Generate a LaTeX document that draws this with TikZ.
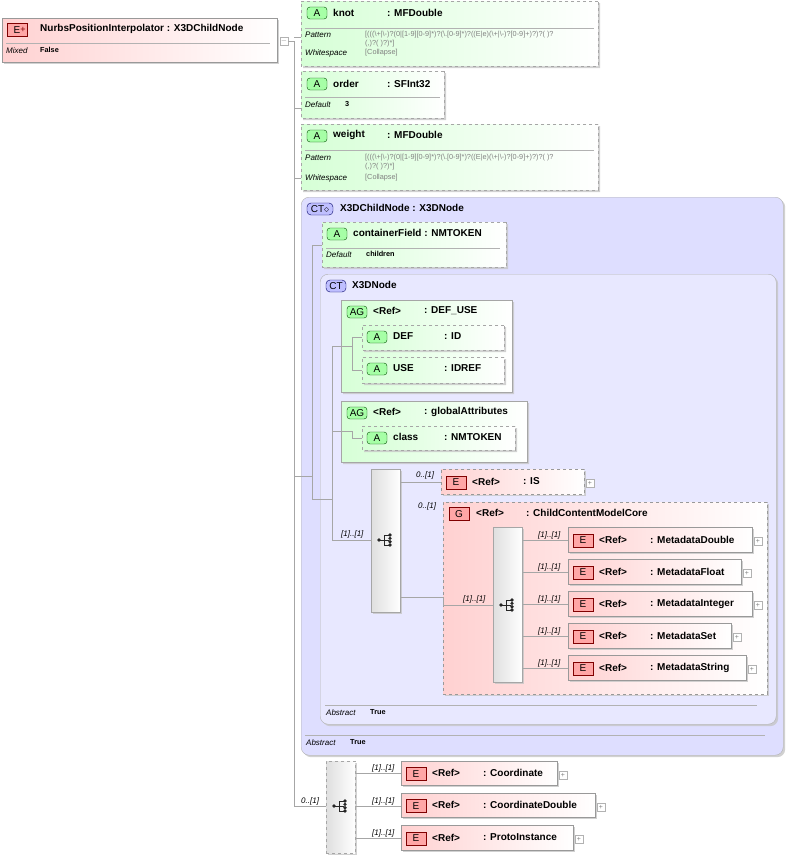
\documentclass[tikz,border=0pt]{standalone}
\usepackage{fontspec}
\setmainfont{Liberation Sans}
\usetikzlibrary{shadows,shapes.misc}
\begin{document}
\begin{tikzpicture}[x=1pt,y=-1pt,
 shad/.style={drop shadow={shadow xshift=2pt,shadow yshift=-2pt,fill=gray!45,opacity=.8}},
 ebox/.style={draw=gray!80,left color=red!18,right color=white,shad},
 edash/.style={ebox,dashed},
 abox/.style={draw=gray!70,dashed,chamfered rectangle,chamfered rectangle corners={north west,south west},chamfered rectangle xsep=6pt,chamfered rectangle ysep=6pt,left color=green!16,right color=white,shad,inner sep=0},
 agbox/.style={abox,solid},
 ctbox/.style={draw=gray!60,rounded corners=8pt,fill=blue!13,shad},
 ct2box/.style={draw=gray!60,rounded corners=8pt,fill=blue!9,shad},
 comp/.style={draw=gray!70,left color=gray!25,right color=white,shad},
 pl/.style={draw=gray!60,fill=white,minimum size=8pt,inner sep=0,font=\fontsize{7}{7}\selectfont,text=gray},
 ln/.style={draw=gray!70,line width=.6pt},
 lab/.style={anchor=west,inner sep=0,font=\fontsize{10}{11}\selectfont\bfseries},
 sm/.style={anchor=west,inner sep=0,font=\fontsize{7.3}{8}\selectfont},
 smb/.style={sm,font=\fontsize{7.3}{8}\selectfont\bfseries},
 smi/.style={anchor=west,inner sep=0,font=\fontsize{8}{9}\selectfont\itshape},
 card/.style={anchor=south west,inner sep=0,font=\fontsize{8}{9}\selectfont\itshape},
]
\newcommand\mkbox[6]{\pgfmathsetmacro\bw{#5-#3}\pgfmathsetmacro\bh{#6-#4}%
 \node[#1,minimum width=\bw pt,minimum height=\bh pt,anchor=north west,inner sep=0] (#2) at ({#3},{#4}) {};}
\newcommand\ebadge[3]{\node[draw=red!50!black,fill=red!35,minimum width=20pt,minimum height=13pt,inner sep=0,font=\fontsize{10}{10}\selectfont] (#1) at ({#2},{#3}) {E};}
\newcommand\abadge[4]{\node[draw=green!30!black,fill=green!35,rounded corners=3pt,minimum width=20pt,minimum height=12pt,inner sep=0,font=\fontsize{10}{10}\selectfont] (#1) at ({#2},{#3}) {#4};}
\newcommand\elem[7]{% name x1 y1 x2 y2 type style
 \mkbox{#7}{#1}{#2}{#3}{#4}{#5}
 \ebadge{#1b}{#2+15}{(#3+#5)/2+1}
 \node[lab] at ({#2+31},{(#3+#5)/2}) {<Ref>};
 \node[lab] at ({#2+82},{(#3+#5)/2}) {: #6};
 \node[pl] (#1p) at ({#4+6},{(#3+#5)/2+2}) {+};}
\newcommand\icon[2]{\fill[gray!30!black] (#1-7,#2) circle (1.8);
 \draw[gray!30!black,line width=.8pt] (#1-7,#2)--(#1-2,#2) (#1-2,#2-5)--(#1-2,#2+5) (#1-2,#2-5)--(#1+3,#2-5) (#1-2,#2+5)--(#1+3,#2+5) (#1-2,#2)--(#1+3,#2);
 \foreach \d in {-5,-1.7,1.7,5}{\fill[gray!30!black] (#1+4,#2+\d) circle (1.8);}}

% main element
\mkbox{ebox}{main}{2}{18}{277}{62}
\ebadge{mainb}{17}{30}
\node[font=\fontsize{9}{9}\selectfont,text=red!50!black] at (23,30) {+};
\node[lab] at (40,29) {NurbsPositionInterpolator : X3DChildNode};
\draw[gray!60] (6,43)--(270,43);
\node[smi] at (6,51) {Mixed};
\node[smb] at (40,50) {False};
\node[pl] (mainm) at (284,41) {$-$};
\coordinate (tr) at (294,41);
\draw[ln] (mainm.east)--(tr)--(294,806);

% knot
\mkbox{abox}{knot}{301}{1}{598}{66}
\abadge{knotb}{317}{13}{A}
\node[lab] at (333,13) {knot}; \node[lab] at (387,13) {: MFDouble};
\draw[gray!60] (305,28)--(594,28);
\node[smi] at (305,35) {Pattern};
\node[sm,text=gray] at (365,35) {[(((\textbackslash+|\textbackslash-)?(0|[1-9][0-9]*)?(\textbackslash.[0-9]*)?((E|e)(\textbackslash+|\textbackslash-)?[0-9]+)?)?( )?};
\node[sm,text=gray] at (365,44) {(,)?( )?)*]};
\node[smi] at (305,53) {Whitespace}; \node[sm,text=gray] at (365,53) {[Collapse]};
\draw[ln] (294,37)--(knot.west|-294,37);
% order
\mkbox{abox}{order}{301}{71}{444}{118}
\abadge{orderb}{317}{84}{A}
\node[lab] at (333,84) {order}; \node[lab] at (387,84) {: SFInt32};
\draw[gray!60] (305,97)--(440,97);
\node[smi] at (305,105) {Default}; \node[smb] at (345,104) {3};
\draw[ln] (294,108)--(order.west|-294,108);
% weight
\mkbox{abox}{weight}{301}{124}{598}{190}
\abadge{weightb}{317}{136}{A}
\node[lab] at (333,135) {weight}; \node[lab] at (387,135) {: MFDouble};
\draw[gray!60] (305,150)--(594,150);
\node[smi] at (305,158) {Pattern};
\node[sm,text=gray] at (365,158) {[(((\textbackslash+|\textbackslash-)?(0|[1-9][0-9]*)?(\textbackslash.[0-9]*)?((E|e)(\textbackslash+|\textbackslash-)?[0-9]+)?)?( )?};
\node[sm,text=gray] at (365,167) {(,)?( )?)*]};
\node[smi] at (305,178) {Whitespace}; \node[sm,text=gray] at (365,178) {[Collapse]};
\draw[ln] (294,178)--(weight.west|-294,178);

% X3DChildNode
\mkbox{ctbox}{ct1}{301}{197}{783}{755}
\node[draw=blue!40!black,fill=blue!25,rounded corners=4pt,minimum width=26pt,minimum height=12pt,inner sep=0,font=\fontsize{10}{10}\selectfont] (ct1b) at (320,209) {CT$\diamond$};
\node[lab] at (340,208) {X3DChildNode : X3DNode};
\draw[gray!60] (305,735)--(765,735);
\node[smi] at (306,743) {Abstract}; \node[smb] at (350,742) {True};
% containerField
\mkbox{abox}{cf}{322}{222}{506}{267}
\abadge{cfb}{337}{234}{A}
\node[lab] at (353,233) {containerField : NMTOKEN};
\draw[gray!60] (326,248)--(500,248);
\node[smi] at (326,255) {Default}; \node[smb] at (366,254) {children};
\draw[ln] (294,476)--(312,476) (312,245)--(312,499) (312,245)--(cf.west|-312,245);

% X3DNode
\mkbox{ct2box}{ct2}{320}{274}{776}{724}
\node[draw=blue!40!black,fill=blue!25,rounded corners=4pt,minimum width=20pt,minimum height=12pt,inner sep=0,font=\fontsize{10}{10}\selectfont] (ct2b) at (336,286) {CT};
\node[lab] at (352,285) {X3DNode};
\draw[gray!60] (325,705)--(757,705);
\node[smi] at (326,713) {Abstract}; \node[smb] at (370,712) {True};
\draw[ln] (312,499)--(332,499) (332,346)--(332,540);

% DEF_USE
\mkbox{agbox}{du}{341}{300}{512}{392}
\abadge{dub}{357}{312}{AG}
\node[lab] at (373,311) {<Ref>}; \node[lab] at (424,311) {: DEF\_USE};
\mkbox{abox}{def}{362}{325}{504}{350}
\abadge{defb}{377}{337}{A}
\node[lab] at (393,336) {DEF}; \node[lab] at (444,336) {: ID};
\mkbox{abox}{use}{362}{357}{504}{383}
\abadge{useb}{377}{369}{A}
\node[lab] at (393,368) {USE}; \node[lab] at (444,368) {: IDREF};
\draw[ln] (332,346)--(352,346) (352,337)--(352,370) (352,337)--(def.west|-352,337) (352,370)--(use.west|-352,370);
% globalAttributes
\mkbox{agbox}{ga}{341}{401}{527}{462}
\abadge{gab}{357}{413}{AG}
\node[lab] at (373,412) {<Ref>}; \node[lab] at (424,412) {: globalAttributes};
\mkbox{abox}{cls}{362}{426}{515}{450}
\abadge{clsb}{377}{438}{A}
\node[lab] at (393,437) {class}; \node[lab] at (444,437) {: NMTOKEN};
\draw[ln] (332,431)--(352,431) (352,431)--(352,438)--(cls.west|-352,438);

% sequence
\mkbox{comp}{seq}{371}{469}{400}{612}
\icon{386}{540}
\draw[ln] (332,540)--(seq.west|-332,540);
\node[card] at (341,538) {[1]..[1]};
% IS
\elem{is}{441}{469}{584}{494}{IS}{edash}
\draw[ln] (seq.east|-400,482)--(is.west|-400,482);
\node[card] at (416,479) {0..[1]};
% group
\mkbox{edash}{grp}{443}{502}{767}{694}
\node[draw=red!50!black,fill=red!35,minimum width=20pt,minimum height=13pt,inner sep=0,font=\fontsize{10}{10}\selectfont] (grpb) at (459,514) {G};
\node[lab] at (476,513) {<Ref>}; \node[lab] at (526,513) {: ChildContentModelCore};
\node[card] at (418,510) {0..[1]};
\draw[ln] (seq.east|-400,597)--(443,597)--(443,605)--(493,605);
\node[card] at (463,603) {[1]..[1]};
\mkbox{comp}{cho}{493}{527}{522}{682}
\icon{508}{605}
\elem{md}{568}{527}{752}{552}{MetadataDouble}{ebox}
\elem{mf}{568}{559}{741}{584}{MetadataFloat}{ebox}
\elem{mi}{568}{591}{752}{616}{MetadataInteger}{ebox}
\elem{ms}{568}{623}{731}{648}{MetadataSet}{ebox}
\elem{mstr}{568}{655}{746}{680}{MetadataString}{ebox}
\foreach \n/\y in {md/540,mf/572,mi/604,ms/636,mstr/668}{
 \draw[ln] (522,\y)--(\n.west|-522,\y);
 \node[card] at (538,\y-1) {[1]..[1]};}

% bottom choice
\mkbox{comp,dashed}{bch}{326}{761}{355}{853}
\icon{341}{806}
\draw[ln] (294,806)--(bch.west|-294,806);
\node[card] at (301,805) {0..[1]};
\elem{co}{401}{761}{557}{785}{Coordinate}{ebox}
\elem{cd}{401}{793}{595}{817}{CoordinateDouble}{ebox}
\elem{pi}{401}{825}{573}{850}{ProtoInstance}{ebox}
\foreach \n/\y in {co/773,cd/806,pi/838}{
 \draw[ln] (355,\y)--(\n.west|-355,\y);
 \node[card] at (372,\y-1) {[1]..[1]};}
\useasboundingbox (0,0) rectangle (788,857);
\end{tikzpicture}
\end{document}
